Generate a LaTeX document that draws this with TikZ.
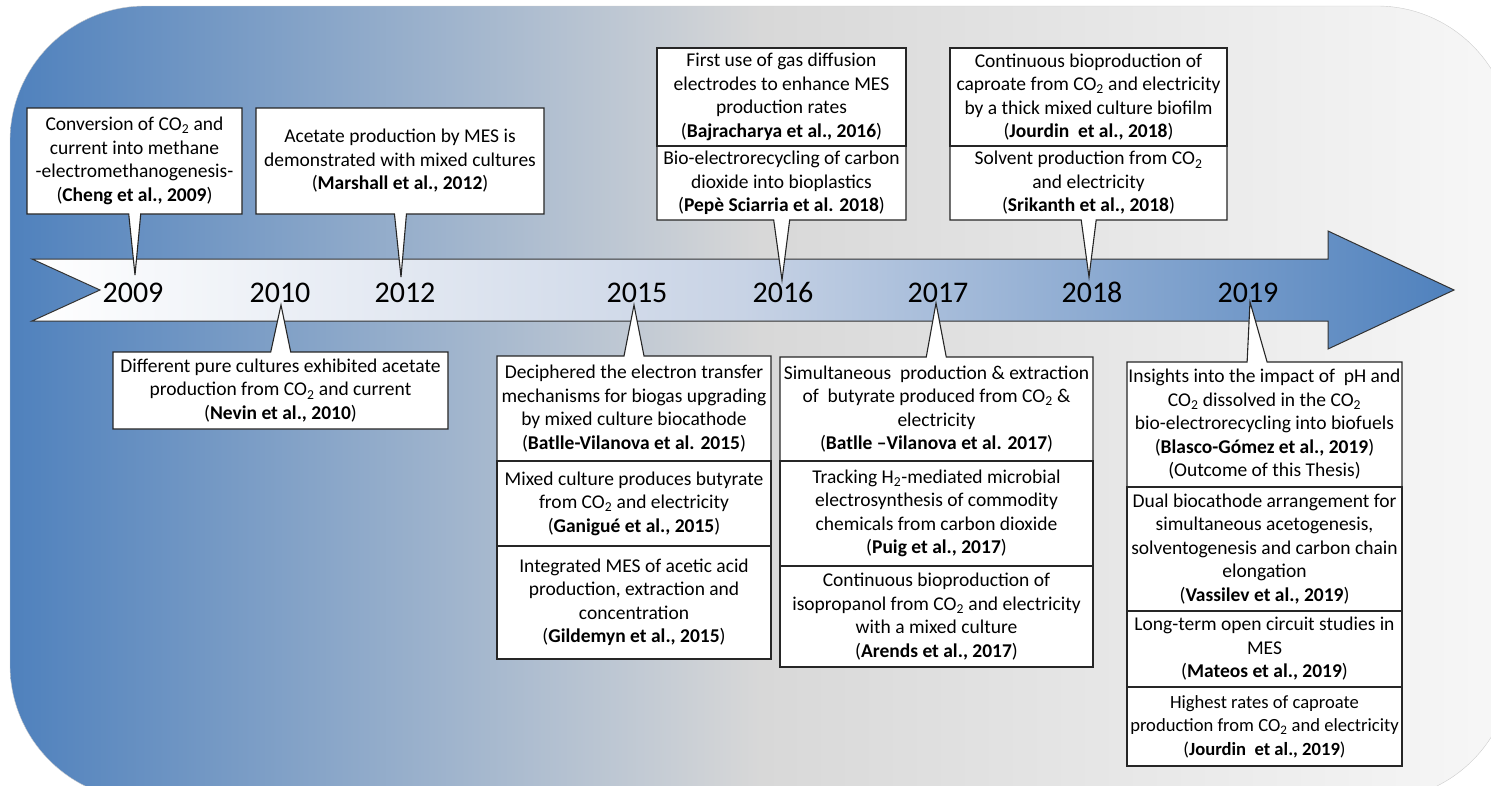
\documentclass[tikz,border=0pt]{standalone}
\usepackage{fontspec}
\setmainfont{Carlito}
\usetikzlibrary{positioning, shapes.callouts}

\definecolor{mesblue}{RGB}{79,129,189}
\definecolor{mesgrey}{RGB}{216,216,216}
\definecolor{bandmid}{RGB}{200,211,229}

\begin{document}
\begin{tikzpicture}[
  x=1pt, y=-1pt,
  event/.style={rectangle, draw=black!85, line width=1.1pt, fill=white, outer sep=0pt,
    inner xsep=1pt, inner ysep=2pt, align=center,
    font=\fontsize{19.5}{23.5}\selectfont},
  ptr/.style={event, rectangle callout, callout pointer width=#1},
  ptr/.default=20pt,
  year/.style={inner sep=0pt, anchor=base, font=\fontsize{30}{36}\selectfont}
]
\useasboundingbox (0,0) rectangle (1491,785);

% --- Background panel ---
\begin{scope}
  \clip (0,0) rectangle (1491,785);
  \shade[left color=mesblue, right color=white!97!black, middle color=mesgrey,
    draw=black!20, rounded corners=135pt] (10,6) rectangle (1512,800);
\end{scope}

% --- Time arrow ---
\shade[left color=white, right color=mesblue, middle color=bandmid, draw=black!80, line width=1pt]
  (32,259) -- (1328,259) -- (1328,231) -- (1454,290) -- (1328,349)
  -- (1328,321) -- (32,321) -- (100,290) -- cycle;

% pointer tips on the arrow
\coordinate (t2009) at (135,275);
\coordinate (t2010) at (281,305);
\coordinate (t2012) at (401,277);
\coordinate (t2015) at (634,305);
\coordinate (t2016) at (782,280);
\coordinate (t2017) at (936,303);
\coordinate (t2018) at (1089,277);
\coordinate (t2019) at (1250,302);

% --- Above the arrow ---
\node[ptr=12pt, callout absolute pointer={(t2009)}, minimum width=215pt, minimum height=106pt]
  (cheng) at (134.5,161)
  {Conversion of CO\textsubscript{2} and\\current into methane\\-electromethanogenesis-\\(\textbf{Cheng et al., 2009})};

\node[ptr=12pt, callout absolute pointer={(t2012)}, minimum width=288pt, minimum height=106pt]
  (marshall) at (400,161)
  {Acetate production by MES is\\demonstrated with mixed cultures\\(\textbf{Marshall et al., 2012})};

\node[ptr=16pt, callout absolute pointer={(t2016)}, minimum width=249pt, minimum height=74pt]
  (pepe) at (781.5,183)
  {Bio-electrorecycling of carbon\\dioxide into bioplastics\\(\textbf{Pepè Sciarria et al. 2018})};
\node[event, minimum width=249pt, minimum height=98pt, above=0pt of pepe] (bajra)
  {First use of gas diffusion\\electrodes to enhance MES\\production rates\\(\textbf{Bajracharya et al., 2016})};

\node[ptr=15pt, callout absolute pointer={(t2018)}, minimum width=277pt, minimum height=74pt]
  (srikanth) at (1088.5,183)
  {Solvent production from CO\textsubscript{2}\\and electricity\\(\textbf{Srikanth et al., 2018})};
\node[event, minimum width=277pt, minimum height=98pt, above=0pt of srikanth] (jourdinA)
  {Continuous bioproduction of\\caproate from CO\textsubscript{2} and electricity\\by a thick mixed culture biofilm\\(\textbf{Jourdin\ \ et al., 2018})};

% --- Below the arrow ---
\node[ptr, callout absolute pointer={(t2010)}, minimum width=335pt, minimum height=77pt]
  (nevin) at (280.5,390.5)
  {Different pure cultures exhibited acetate\\production from CO\textsubscript{2} and current\\(\textbf{Nevin et al., 2010})};

% 2015
\node[ptr, callout absolute pointer={(t2015)}, minimum width=274pt, minimum height=105pt]
  (batlleA) at (634,408.5)
  {Deciphered the electron transfer\\mechanisms for biogas upgrading\\by mixed culture biocathode\\(\textbf{Batlle-Vilanova et al. 2015})};
\node[event, minimum width=274pt, minimum height=85pt, below=0pt of batlleA] (ganigue)
  {Mixed culture produces butyrate\\from CO\textsubscript{2} and electricity\\(\textbf{Ganigué et al., 2015})};
\node[event, minimum width=274pt, minimum height=113pt, below=0pt of ganigue] (gildemyn)
  {Integrated MES of acetic acid\\production, extraction and\\concentration\\(\textbf{Gildemyn et al., 2015})};

% 2017
\node[ptr, callout absolute pointer={(t2017)}, minimum width=313pt, minimum height=104pt]
  (batlleB) at (936.5,409)
  {Simultaneous\ \ production \& extraction\\of\ \ butyrate produced from CO\textsubscript{2} \&\\electricity\\(\textbf{Batlle –Vilanova et al. 2017})};
\node[event, minimum width=313pt, minimum height=105pt, below=0pt of batlleB] (puig)
  {Tracking H\textsubscript{2}-mediated microbial\\electrosynthesis of commodity\\chemicals from carbon dioxide\\(\textbf{Puig et al., 2017})};
\node[event, minimum width=313pt, minimum height=101pt, below=0pt of puig] (arends)
  {Continuous bioproduction of\\isopropanol from CO\textsubscript{2} and electricity\\with a mixed culture\\(\textbf{Arends et al., 2017})};

% 2019 (narrow column, slightly tighter type)
\node[ptr, callout absolute pointer={(t2019)}, minimum width=275pt, minimum height=125pt]
  (blasco) at (1264.5,424.5)
  {Insights into the impact of\ \ pH and\\CO\textsubscript{2} dissolved in the CO\textsubscript{2}\\bio-electrorecycling into biofuels\\(\textbf{Blasco-Gómez et al., 2019})\\(Outcome of this Thesis)};
\node[event, minimum width=275pt, minimum height=124pt, below=0pt of blasco] (vassilev)
  {Dual biocathode arrangement for\\simultaneous acetogenesis,\\solventogenesis and carbon chain\\elongation\\(\textbf{Vassilev et al., 2019})};
\node[event, minimum width=275pt, minimum height=76pt, below=0pt of vassilev] (mateos)
  {Long-term open circuit studies in\\MES\\(\textbf{Mateos et al., 2019})};
\node[event, minimum width=275pt, minimum height=79pt, below=0pt of mateos,
  font=\fontsize{18.6}{23.5}\selectfont] (jourdinB)
  {Highest rates of caproate\\production from CO\textsubscript{2} and electricity\\(\textbf{Jourdin\ \ et al., 2019})};

% --- Years ---
\node[year] (y2009) at (133,302) {2009};
\node[year] (y2010) at (280,302) {2010};
\node[year] (y2012) at (405,302) {2012};
\node[year] (y2015) at (637,302) {2015};
\node[year] (y2016) at (783,302) {2016};
\node[year] (y2017) at (938,302) {2017};
\node[year] (y2018) at (1092,302) {2018};
\node[year] (y2019) at (1248,302) {2019};

\end{tikzpicture}
\end{document}
